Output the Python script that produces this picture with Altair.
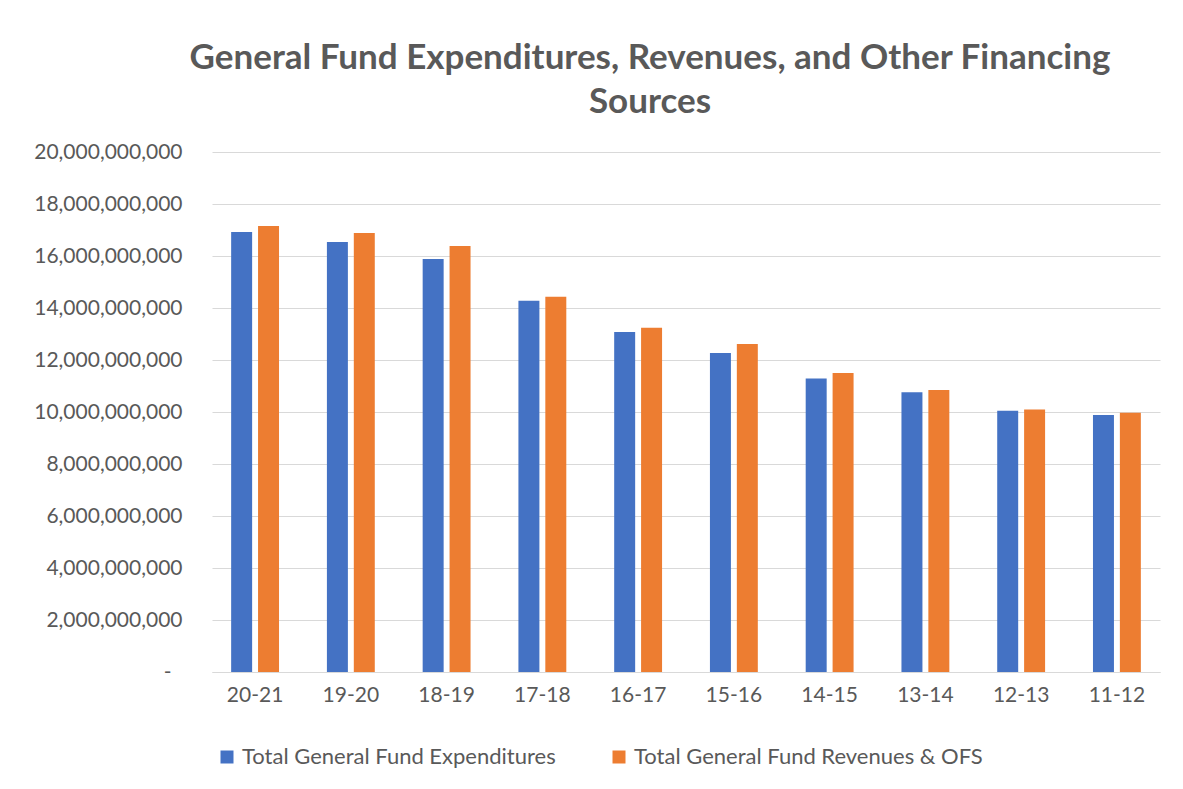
import altair as alt
import pandas as pd

years = ["20-21", "19-20", "18-19", "17-18", "16-17", "15-16", "14-15", "13-14", "12-13", "11-12"]
expenditures = [16.92e9, 16.54e9, 15.88e9, 14.28e9, 13.08e9, 12.27e9, 11.29e9, 10.76e9, 10.05e9, 9.88e9]
revenues = [17.15e9, 16.88e9, 16.38e9, 14.43e9, 13.24e9, 12.62e9, 11.50e9, 10.85e9, 10.10e9, 9.97e9]
series = ["Total General Fund Expenditures", "Total General Fund Revenues & OFS"]
colors = ["#4472C4", "#ED7D31"]

rows = []
for y, e, r in zip(years, expenditures, revenues):
    rows.append({"year": y, "series": series[0], "value": e})
    rows.append({"year": y, "series": series[1], "value": r})
df = pd.DataFrame(rows)

FONT = "Lato"
TXT = "#595959"

chart = alt.Chart(df).mark_bar().encode(
    x=alt.X("year:N", sort=years, title=None,
            scale=alt.Scale(paddingInner=0.5),
            axis=alt.Axis(labelAngle=0, labelFontSize=21, labelColor=TXT, labelFont=FONT,
                          ticks=False, domainColor="#D9D9D9", labelPadding=12)),
    xOffset=alt.XOffset("series:N", sort=series, scale=alt.Scale(paddingInner=0.22, paddingOuter=0)),
    y=alt.Y("value:Q", title=None,
            scale=alt.Scale(domain=[0, 20e9], nice=False),
            axis=alt.Axis(values=[i * 2e9 for i in range(11)],
                          labelExpr="datum.value == 0 ? '-' : format(datum.value, ',')",
                          labelPadding={"condition": {"test": "datum.value == 0", "value": 41}, "value": 30},
                          labelFontSize=21, labelColor=TXT, labelFont=FONT,
                          ticks=False, domain=False, gridColor="#D9D9D9",
                          minExtent=185, maxExtent=185)),
    color=alt.Color("series:N", sort=series, scale=alt.Scale(domain=series, range=colors),
                    legend=alt.Legend(title=None, orient="none", legendX=4, legendY=594,
                                      direction="horizontal", symbolType="square",
                                      symbolSize=169, symbolStrokeWidth=0, labelLimit=0,
                                      labelFontSize=22, labelColor=TXT, labelFont=FONT,
                                      columnPadding=52, labelOffset=4)),
).properties(
    width=948,
    height=520,
    padding={"left": 19, "top": 33, "right": 10, "bottom": 10},
    title=alt.TitleParams(["General Fund Expenditures, Revenues, and Other Financing", "Sources"],
                          fontSize=35, font=FONT, fontWeight="bold", color=TXT,
                          anchor="middle", dx=-36, lineHeight=44, offset=21),
).configure_view(stroke=None)

chart.save("out.html", embed_options={"renderer": "svg", "actions": False})
